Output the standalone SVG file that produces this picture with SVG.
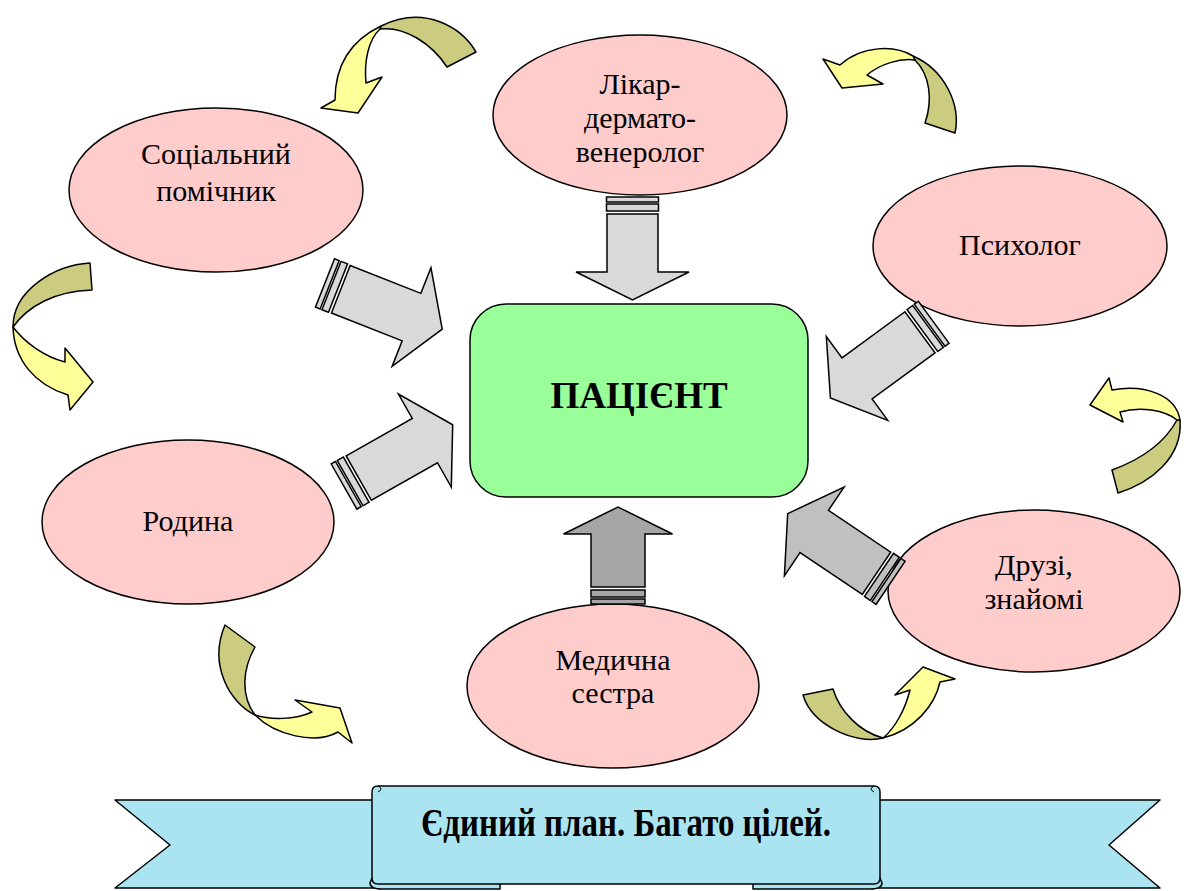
<svg xmlns="http://www.w3.org/2000/svg" width="1186" height="891" viewBox="0 0 1186 891">
<style>
.node ellipse{fill:#ffcccc;stroke:#000;stroke-width:1.5}
.lbl{font-family:"Liberation Serif","Times New Roman",serif;font-size:30px;fill:#000;text-anchor:middle}
.ba rect,.ba polygon{stroke:#000;stroke-width:1.5;stroke-linejoin:miter}
.g1{fill:#d9d9d9}.g2{fill:#c0c0c0}.g3{fill:#a6a6a6}
.ol{fill:#cccc80;stroke:#000;stroke-width:1.5;stroke-linejoin:round}
.ye{fill:#ffff99;stroke:#000;stroke-width:1.5;stroke-linejoin:round}
.rib{fill:#a9e4f0;stroke:#000;stroke-width:1.5;stroke-linejoin:round}
</style>
<rect width="1186" height="891" fill="#fff"/>
<g id="banner">
<path class="rib" d="M115,800 L380,800 L380,888 L115,888 L170,845 Z"/>
<path class="rib" d="M1160,800 L870,800 L870,888 L1160,888 L1109,845 Z"/>
<path class="rib" d="M372,878 L500,878 L500,889 L382,889 Q370,889 370,883 Z"/>
<path class="rib" d="M880,878 L753,878 L753,889 L870,889 Q882,889 882,883 Z"/>
<path class="rib" d="M372,792 Q372,786 378,786 L874,786 Q880,786 880,792 L880,878 Q880,884 874,884 L378,884 Q372,884 372,878 Z"/>
<path d="M378,786 Q384,789 378,792 M874,786 Q868,789 874,792" fill="none" stroke="#000" stroke-width="1"/>
<text x="626" y="836" font-family="'Liberation Serif','Times New Roman',serif" font-size="39" font-weight="bold" text-anchor="middle" textLength="410" lengthAdjust="spacingAndGlyphs">Єдиний план. Багато цілей.</text>
</g>
<g id="n-social" class="node"><ellipse cx="216" cy="190" rx="147" ry="82"/><text class="lbl" x="216" y="164">Соціальний</text><text class="lbl" x="216" y="201">помічник</text></g>
<g id="n-derm" class="node"><ellipse cx="640" cy="115" rx="147" ry="80"/><text class="lbl" x="640" y="94">Лікар-</text><text class="lbl" x="640" y="128">дермато-</text><text class="lbl" x="640" y="162">венеролог</text></g>
<g id="n-psych" class="node"><ellipse cx="1020" cy="246" rx="147" ry="80"/><text class="lbl" x="1020" y="255">Психолог</text></g>
<g id="n-family" class="node"><ellipse cx="188" cy="522" rx="146" ry="82"/><text class="lbl" x="188" y="531">Родина</text></g>
<g id="n-friends" class="node"><ellipse cx="1034" cy="591" rx="146" ry="81"/><text class="lbl" x="1034" y="575">Друзі,</text><text class="lbl" x="1034" y="609">знайомі</text></g>
<g id="n-nurse" class="node"><ellipse cx="613" cy="686" rx="146" ry="82"/><text class="lbl" x="613" y="670">Медична</text><text class="lbl" x="613" y="703">сестра</text></g>
<g id="n-patient"><rect x="470" y="304" width="338" height="193" rx="36" fill="#99ff99" stroke="#000" stroke-width="1.5"/><text x="639" y="408" font-family="'Liberation Serif','Times New Roman',serif" font-size="37" font-weight="bold" text-anchor="middle">ПАЦІЄНТ</text></g>
<g id="connectors">
<g class="ba g1" transform="translate(632.5,197) rotate(90)"><rect x="0" y="-26" width="5" height="52"/><rect x="7" y="-26" width="7" height="52"/><polygon points="17,-25.5 75,-25.5 75,-56.5 103,0 75,56.5 75,25.5 17,25.5"/></g>
<g class="ba g1" transform="translate(325,283) rotate(21.5)"><rect x="0" y="-26" width="5" height="52"/><rect x="7" y="-26" width="7" height="52"/><polygon points="17,-25.5 93,-25.5 93,-53 126,0 93,53 93,25.5 17,25.5"/></g>
<g class="ba g1" transform="translate(344,486.5) rotate(-29.6)"><rect x="0" y="-26" width="5" height="52"/><rect x="7" y="-26" width="7" height="52"/><polygon points="17,-25.5 93,-25.5 93,-53.5 125,0 93,53.5 93,25.5 17,25.5"/></g>
<g class="ba g1" transform="translate(933.7,322.3) rotate(143.8)"><rect x="0" y="-26" width="5" height="52"/><rect x="7" y="-26" width="7" height="52"/><polygon points="17,-25.5 95,-25.5 95,-52 128,0 95,52 95,25.5 17,25.5"/></g>
<g class="ba g2" transform="translate(890.6,582.8) rotate(213.9)"><rect x="0" y="-26" width="5" height="52"/><rect x="7" y="-26" width="7" height="52"/><polygon points="17,-25.5 92,-25.5 92,-53.5 124,0 92,53.5 92,25.5 17,25.5"/></g>
<g class="ba g3" transform="translate(618,604) rotate(-90)"><rect x="0" y="-27" width="5" height="54"/><rect x="7" y="-27" width="7" height="54"/><polygon points="17,-27 70,-27 70,-54.5 97,0 70,54.5 70,27 17,27"/></g>
<g id="cycle">
<path class="ol" d="M476,52 C462,28 425,4 381,26 L380,29 C405,26 432,44 447,67 Z"/>
<path class="ye" d="M381,26 C356,38 335,60 335,100 L321,108 L358,113 L382,77 L366,83 C364,62 368,40 380,29 Z"/>
<path class="ol" d="M925,123 L955,133 C961,105 945,70 913,56 L915,60 C930,75 933,100 925,123 Z"/>
<path class="ye" d="M913,56 C895,45 862,45 840,65 L823,59 L842,88 L883,84 L867,75 C880,64 900,58 915,60 Z"/>
<path class="ol" d="M90,263 C55,265 13,290 13,327 C28,306 55,291 92,290 Z"/>
<path class="ye" d="M13,327 C14,360 35,385 68,395 L70,410 L93,382 L65,348 L65,362 C45,357 25,343 13,327 Z"/>
<path class="ol" d="M1112,470 L1118,493 C1150,483 1183,458 1180,420 L1177,420 C1165,442 1145,458 1112,470 Z"/>
<path class="ye" d="M1180,420 C1176,395 1145,384 1112,390 L1109,378 L1090,405 L1123,422 L1120,412 C1140,406 1165,410 1177,420 Z"/>
<path class="ol" d="M225,625 L255,647 C243,668 240,695 255,715 C230,703 208,665 225,625 Z"/>
<path class="ye" d="M255,715 C275,735 315,745 338,732 L352,743 L340,708 L295,700 L312,712 C295,720 270,720 255,715 Z"/>
<path class="ol" d="M803,695 L833,689 C840,712 860,732 883,738 C855,745 812,725 803,695 Z"/>
<path class="ye" d="M883,738 C915,730 935,705 940,682 L955,679 L923,667 L895,695 L910,690 C905,710 895,728 883,738 Z"/>
</g>
</g>
</svg>
